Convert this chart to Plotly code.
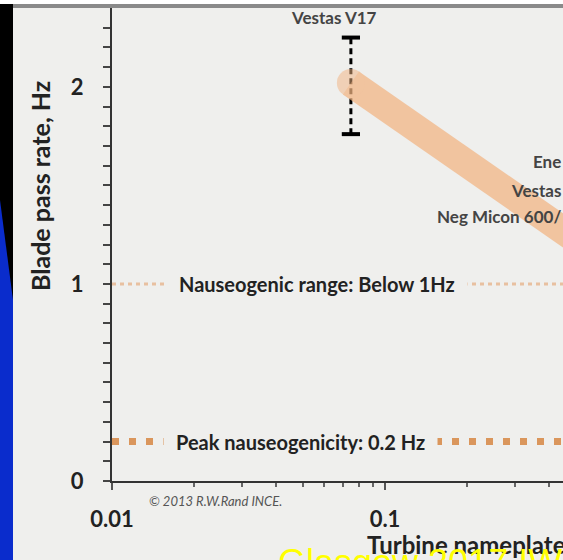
import plotly.graph_objects as go
import math

# ---------------- data ----------------
x_tickvals = [0.01, 0.1]
x_ticktext = ["0.01", "0.1"]
x_minor_ticks = [0.02, 0.03, 0.04, 0.05, 0.06, 0.07, 0.08, 0.09, 0.2, 0.3, 0.4]
y_tickvals = [0, 1, 2]
y_ticktext = ["0", "1", "2"]
y_minor_ticks = [0.1, 0.2, 0.3, 0.4, 0.5, 0.6, 0.7, 0.8, 0.9,
                 1.1, 1.2, 1.3, 1.4, 1.5, 1.6, 1.7, 1.8, 1.9,
                 2.1, 2.2, 2.3]

trend_x = [0.075, 0.6]          # nameplate MW
trend_y = [2.02, 1.15]          # blade pass rate, Hz

v17_x = [0.075, 0.075]
v17_range = [1.76, 2.25]        # Hz

nauseogenic_y = 1.0
peak_y = 0.2
line_x = [0.01, 1.0]

turbine_labels = ["Ene", "Vestas", "Neg Micon 600/"]
turbine_label_y = [1.62, 1.475, 1.34]

# ---------------- layout geometry ----------------
W, H = 563, 560
ML, MR, MT, MB = 112, 0, 8, 79
PW, PH = W - ML - MR, H - MT - MB
BG = "#efefed"
FONT = "Lato"


def px(xp):
    return (xp - ML) / PW


def py(yp):
    return (H - MB - yp) / PH


fig = go.Figure()

# reference lines
fig.add_trace(go.Scatter(x=line_x, y=[nauseogenic_y] * 2, mode="lines",
                         line=dict(color="rgb(232,192,160)", width=3, dash="4px,4px"),
                         hoverinfo="skip", showlegend=False))
fig.add_trace(go.Scatter(x=line_x, y=[peak_y] * 2, mode="lines",
                         line=dict(color="rgb(218,150,92)", width=7, dash="7px,10px"),
                         hoverinfo="skip", showlegend=False))

# Vestas V17 range bar
fig.add_trace(go.Scatter(x=v17_x, y=v17_range, mode="lines+markers",
                         line=dict(color="black", width=3, dash="6px,4px"),
                         marker=dict(symbol="line-ew", size=13,
                                     line=dict(color="black", width=4)),
                         hoverinfo="skip", showlegend=False))

# trend band
fig.add_trace(go.Scatter(x=trend_x, y=trend_y, mode="lines+markers",
                         line=dict(color="rgb(242,180,130)", width=28),
                         marker=dict(color="rgb(242,180,130)", size=[28, 0],
                                     line=dict(width=0)),
                         opacity=0.72, hoverinfo="skip", showlegend=False))

ann = []
ann.append(dict(text="Vestas V17", x=math.log10(0.065), y=2.35, xref="x", yref="y",
                xanchor="center", yanchor="middle",
                showarrow=False, font=dict(family=FONT, size=17, color="#444", weight="bold")))
for t, yv in zip(turbine_labels, turbine_label_y):
    ann.append(dict(text=t, x=1.0, y=yv, xref="paper", yref="y", xanchor="right",
                    yanchor="middle",
                    showarrow=False, font=dict(family=FONT, size=17, color="#444", weight="bold")))
ann.append(dict(text="Nauseogenic range: Below 1Hz", x=px(166), y=nauseogenic_y,
                xref="paper", yref="y", xanchor="left", yanchor="middle", showarrow=False,
                bgcolor=BG, borderpad=12,
                font=dict(family=FONT, size=20, color="#222", weight="bold")))
ann.append(dict(text="Peak nauseogenicity: 0.2 Hz", x=px(163), y=peak_y,
                xref="paper", yref="y", xanchor="left", yanchor="middle", showarrow=False,
                bgcolor=BG, borderpad=12,
                font=dict(family=FONT, size=20, color="#222", weight="bold")))
ann.append(dict(text="Blade pass rate, Hz", x=px(40), y=py(186), xref="paper", yref="paper",
                xanchor="center", yanchor="middle",
                textangle=-90, showarrow=False,
                font=dict(family=FONT, size=25, color="#222", weight="bold")))
ann.append(dict(text="Turbine nameplate", x=px(365), y=py(544), xref="paper", yref="paper",
                xanchor="left", yanchor="middle", showarrow=False,
                font=dict(family=FONT, size=24, color="#222", weight="bold")))
ann.append(dict(text="© 2013 R.W.Rand INCE.", x=px(147), y=py(501), xref="paper", yref="paper",
                xanchor="left", yanchor="middle", showarrow=False,
                font=dict(family=FONT, size=13, color="#555", style="italic")))
ann.append(dict(text="Glasgow 2017 IW", x=px(276), y=py(540), xref="paper", yref="paper",
                xanchor="left", yanchor="top", showarrow=False,
                font=dict(family="Liberation Sans", size=36, color="#ffff00")))

shapes = [
    dict(type="rect", xref="paper", yref="paper", x0=px(0), x1=px(W), y0=py(4), y1=py(0),
         fillcolor="white", line_width=0, layer="above"),
    dict(type="rect", xref="paper", yref="paper", x0=px(13), x1=px(W), y0=py(8), y1=py(4),
         fillcolor="#8a8a8a", line_width=0, layer="above"),
    dict(type="rect", xref="paper", yref="paper", x0=px(0), x1=px(13), y0=py(H), y1=py(4),
         fillcolor="black", line_width=0, layer="above"),
    dict(type="path", xref="paper", yref="paper",
         path=f"M {px(0)},{py(200)} L {px(13)},{py(300)} L {px(13)},{py(H)} L {px(0)},{py(H)} Z",
         fillcolor="#0a2ccc", line_width=0, layer="above"),
]

fig.update_layout(
    width=W, height=H,
    margin=dict(l=ML, r=MR, t=MT, b=MB, pad=0),
    paper_bgcolor=BG, plot_bgcolor=BG,
    showlegend=False,
    annotations=ann, shapes=shapes,
    xaxis=dict(type="log", range=[-2, math.log10(0.01) + PW / 273.0],
               tickvals=x_tickvals, ticktext=x_ticktext,
               ticks="outside", ticklen=7, tickwidth=1.5, tickcolor="#555",
               minor=dict(tickvals=x_minor_ticks, ticks="outside", ticklen=4,
                          tickwidth=1.5, tickcolor="#666", showgrid=False),
               showline=True, linecolor="#333", linewidth=2,
               showgrid=False, zeroline=False,
               ticklabelstandoff=11,
               tickfont=dict(family=FONT, size=22, color="#222", weight="bold")),
    yaxis=dict(range=[0, 2.4], tickvals=y_tickvals, ticktext=y_ticktext,
               ticks="outside", ticklen=7, tickwidth=2, tickcolor="#444",
               minor=dict(tickvals=y_minor_ticks, ticks="outside", ticklen=7, tickwidth=2,
                          tickcolor="#444", showgrid=False),
               showline=True, linecolor="#333", linewidth=2,
               showgrid=False, zeroline=False,
               ticklabelstandoff=15,
               tickfont=dict(family=FONT, size=22, color="#222", weight="bold")),
)

fig.write_html("out.html", config={"displayModeBar": False},
               post_script="document.body.style.margin='0';")
